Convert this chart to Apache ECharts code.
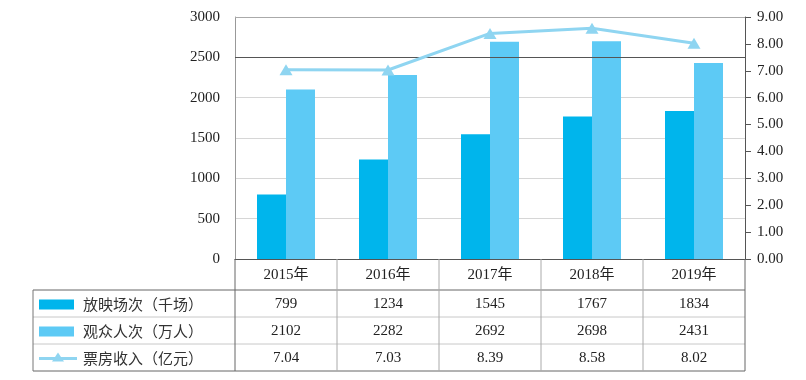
<!DOCTYPE html>
<html><head><meta charset="utf-8">
<script src="https://cdn.jsdelivr.net/npm/echarts@6/dist/echarts.min.js"></script>
<style>html,body{margin:0;padding:0;background:#fff}#c{width:806px;height:380px}</style>
</head><body><div id="c"></div>
<script>
var categories = ['2015年', '2016年', '2017年', '2018年', '2019年'];
var screenings = [799, 1234, 1545, 1767, 1834];
var audience = [2102, 2282, 2692, 2698, 2431];
var boxOffice = [7.04, 7.03, 8.39, 8.58, 8.02];
var seriesNames = ['放映场次（千场）', '观众人次（万人）', '票房收入（亿元）'];
var leftTicks = [0, 3000, 500];
var rightTicks = [0, 9, 1];

var C1 = '#00B5EC', C2 = '#5DCAF5', C3 = '#8FD5F1';
var SERIF = '"Liberation Serif","Times New Roman","Noto Sans CJK SC",serif';
var CJK = '"Noto Sans CJK SC","Noto Sans",sans-serif';

var gL = 235, gR = 745, gT = 17, gB = 259;
var tableLeft = 33, rowLines = [259, 290, 317, 344, 371];
var colW = (gR - gL) / categories.length;

var chart = echarts.init(document.getElementById('c'), null, {renderer: 'canvas'});

var g = [];
var hColors = ['#555', '#666', '#c8c8c8', '#c8c8c8', '#666'];
for (var i = 1; i < rowLines.length; i++) {
  g.push({type: 'line', shape: {x1: tableLeft, y1: rowLines[i], x2: gR, y2: rowLines[i]},
    style: {stroke: hColors[i], lineWidth: 1}, z: 10});
}
g.push({type: 'line', shape: {x1: tableLeft, y1: rowLines[1], x2: tableLeft, y2: rowLines[4]}, style: {stroke: '#777', lineWidth: 1}, z: 10});
for (var j = 0; j <= categories.length; j++) {
  var x = gL + j * colW;
  g.push({type: 'line', shape: {x1: x, y1: rowLines[0], x2: x, y2: rowLines[4]},
    style: {stroke: (j === 0 || j === categories.length) ? '#666' : '#aaa', lineWidth: 1}, z: 10});
}
categories.forEach(function (c, k) {
  g.push({type: 'text', x: gL + (k + 0.5) * colW, y: (rowLines[0] + rowLines[1]) / 2 + 1,
    style: {text: c, font: '15px ' + SERIF, fill: '#222', align: 'center', verticalAlign: 'middle'}, z: 11});
});
var rows = [screenings, audience, boxOffice];
rows.forEach(function (arr, r) {
  var yc = (rowLines[r + 1] + rowLines[r + 2]) / 2 + 1;
  arr.forEach(function (v, k) {
    g.push({type: 'text', x: gL + (k + 0.5) * colW, y: yc,
      style: {text: r === 2 ? v.toFixed(2) : String(v), font: '15px ' + SERIF, fill: '#222', align: 'center', verticalAlign: 'middle'}, z: 11});
  });
  if (r < 2) {
    g.push({type: 'rect', shape: {x: 39, y: yc - 5, width: 35, height: 10}, style: {fill: r === 0 ? C1 : C2}, z: 11});
  } else {
    g.push({type: 'line', shape: {x1: 39, y1: yc, x2: 77, y2: yc}, style: {stroke: C3, lineWidth: 3}, z: 11});
    g.push({type: 'polygon', shape: {points: [[58, yc - 6], [52, yc + 3], [64, yc + 3]]}, style: {fill: C3}, z: 12});
  }
  g.push({type: 'text', x: 83, y: yc, style: {text: seriesNames[r], font: '15px ' + CJK, fill: '#333', align: 'left', verticalAlign: 'middle'}, z: 11});
});

chart.setOption({
  animation: false,
  backgroundColor: '#fff',
  grid: {left: gL, right: 806 - gR, top: gT, bottom: 380 - gB, containLabel: false},
  xAxis: {type: 'category', data: categories, boundaryGap: true,
    axisLine: {show: true, lineStyle: {color: '#555', width: 1}},
    axisTick: {show: false}, axisLabel: {show: false}, splitLine: {show: false}},
  yAxis: [
    {type: 'value', min: leftTicks[0], max: leftTicks[1], interval: leftTicks[2],
      axisLine: {show: true, lineStyle: {color: '#999'}}, axisTick: {show: false},
      axisLabel: {margin: 15, fontFamily: SERIF, fontSize: 15, color: '#222',
        formatter: function (v) { return String(v); }},
      splitLine: {show: true, lineStyle: {color: '#d6d6d6', width: 1}}},
    {type: 'value', min: rightTicks[0], max: rightTicks[1], interval: rightTicks[2],
      position: 'right',
      axisLine: {show: true, lineStyle: {color: '#555'}},
      axisTick: {show: true, length: 6, lineStyle: {color: '#555'}},
      axisLabel: {margin: 12, fontFamily: SERIF, fontSize: 15, color: '#222',
        formatter: function (v) { return v.toFixed(2); }},
      splitLine: {show: false}}
  ],
  series: [
    {name: seriesNames[0], type: 'bar', data: screenings, barWidth: 29, barGap: '0%',
      itemStyle: {color: C1},
      markLine: {silent: true, symbol: 'none', label: {show: false},
        lineStyle: {color: '#555', type: 'solid', width: 1},
        data: [{yAxis: 2500}, {yAxis: 3000, lineStyle: {color: '#aaa'}}]}},
    {name: seriesNames[1], type: 'bar', data: audience, barWidth: 29, itemStyle: {color: C2}},
    {name: seriesNames[2], type: 'line', yAxisIndex: 1, data: boxOffice,
      symbol: 'triangle', symbolSize: [13, 11], lineStyle: {color: C3, width: 3},
      itemStyle: {color: C3}, z: 5}
  ],
  graphic: g
});
</script></body></html>
